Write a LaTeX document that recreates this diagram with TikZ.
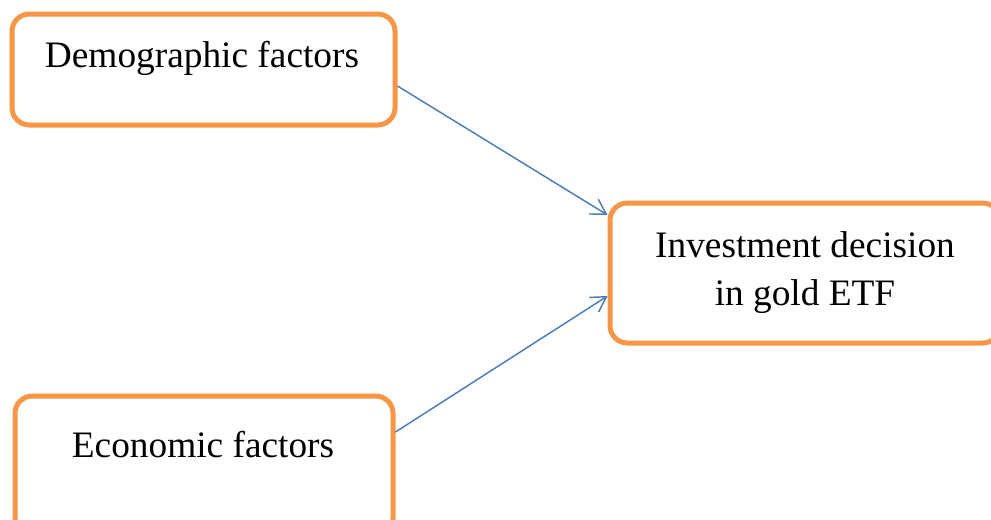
\documentclass[tikz,border=0pt]{standalone}
\usepackage{fontspec}
\setmainfont{Liberation Serif}
\usetikzlibrary{arrows.meta}
\definecolor{boxorange}{HTML}{F79646}
\definecolor{linkblue}{HTML}{4A7EBB}
\begin{document}
\begin{tikzpicture}[x=0.75pt,y=-0.75pt,
  box/.style={draw=boxorange, line width=3.75pt, rounded corners=13pt, fill=white, inner sep=0pt},
  caption/.style={font=\fontsize{28}{36}\selectfont, anchor=base, inner sep=0pt},
  link/.style={draw=linkblue, line width=1.1pt, -{Straight Barb[length=11pt,width=13pt,line width=1.1pt]}}]
  \useasboundingbox (0,0) rectangle (991,519);
  \fill[white] (0,0) rectangle (991,519);
  % boxes
  \node[box, minimum width=383*0.75pt, minimum height=111*0.75pt] (demo) at (203.5,69.5) {};
  \node[box, minimum width=390*0.75pt, minimum height=140*0.75pt] (inv) at (805,273) {};
  \node[box, minimum width=378*0.75pt, minimum height=140*0.75pt] (econ) at (204,466) {};
  % captions
  \node[caption] (demot) at (202,67) {Demographic factors};
  \node[caption] (econt) at (203,457) {Economic factors};
  \node[caption] (invt1) at (805,257) {Investment decision};
  \node[caption] (invt2) at (805,305) {in gold ETF};
  % connectors
  \draw[link] (demo.east |- 0,86) -- (inv.west |- 0,215);
  \draw[link] (econ.east |- 0,432) -- (inv.west |- 0,296);
\end{tikzpicture}
\end{document}
